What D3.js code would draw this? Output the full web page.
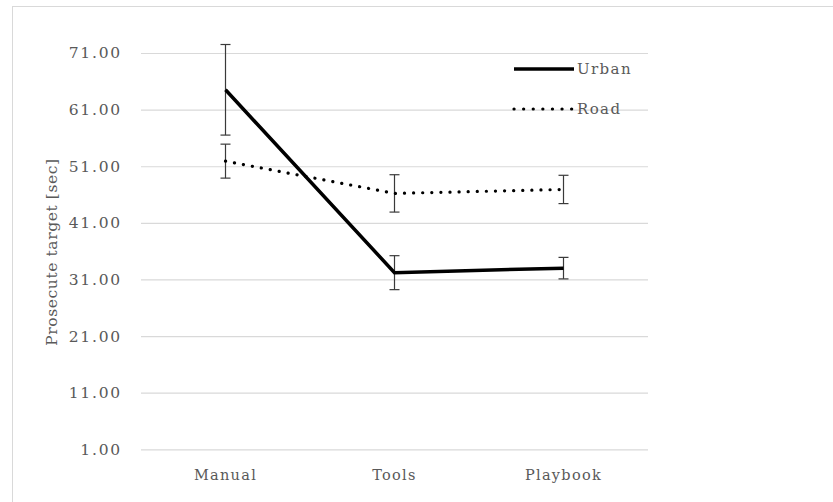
<!DOCTYPE html>
<html><head><meta charset="utf-8">
<script src="https://cdn.jsdelivr.net/npm/d3@7"></script>
<style>body{margin:0;background:#fff}text{font-family:"DejaVu Serif",serif;fill:#595959}</style>
</head><body><svg id="c" width="833" height="502"></svg>
<script>
const categories = ["Manual","Tools","Playbook"];
const urbanValues = [64.5, 32.2, 33.0];
const urbanErrors = [8.0, 3.0, 1.9];
const roadValues = [51.9, 46.2, 46.9];
const roadErrors = [3.0, 3.3, 2.5];
const yTicks = [1, 11, 21, 31, 41, 51, 61, 71];
const seriesNames = ["Urban","Road"];

const svg = d3.select("#c");
svg.append("rect").attr("x",12.5).attr("y",6.5).attr("width",840).attr("height",520)
  .attr("fill","none").attr("stroke","#d9d9d9");

const x = d3.scaleBand().domain(categories).range([141,648]);
const y = d3.scaleLinear().domain([1,71]).range([449.3,53]);

const gy = svg.append("g").attr("transform","translate(141,0)")
  .call(d3.axisLeft(y).tickValues(yTicks).tickFormat(d3.format(".2f")).tickSize(-507).tickPadding(19));
gy.select(".domain").remove();
gy.selectAll(".tick line").attr("stroke","#d9d9d9").attr("stroke-width",1.2);
gy.selectAll(".tick text").attr("font-size",15.5).attr("letter-spacing","1.8px").style("font-family","DejaVu Serif").attr("fill","#595959");

const gx = svg.append("g").attr("transform","translate(0,449.3)")
  .call(d3.axisBottom(x).tickSize(0).tickPadding(20));
gx.select(".domain").remove();
gx.selectAll(".tick text").attr("font-size",14.5).attr("letter-spacing","1.3px").style("font-family","DejaVu Serif").attr("fill","#595959");

svg.append("text").attr("transform","translate(57,252) rotate(-90)").attr("text-anchor","middle")
  .attr("font-size",15.5).attr("letter-spacing","0.6px").text("Prosecute target [sec]");

const cx = c => x(c) + x.bandwidth()/2;
const line = d3.line().x((d,i)=>cx(categories[i])).y(d=>y(d));

function drawErr(vals, errs){
  const g = svg.append("g").attr("stroke","#3a3a3a").attr("stroke-width",1.2);
  vals.forEach((v,i)=>{
    const px = cx(categories[i]);
    g.append("line").attr("x1",px).attr("x2",px).attr("y1",y(v+errs[i])).attr("y2",y(v-errs[i]));
    [v+errs[i], v-errs[i]].forEach(e=>g.append("line").attr("x1",px-5).attr("x2",px+5).attr("y1",y(e)).attr("y2",y(e)));
  });
}
drawErr(urbanValues, urbanErrors);
drawErr(roadValues, roadErrors);

svg.append("path").attr("d",line(urbanValues)).attr("fill","none").attr("stroke","#000").attr("stroke-width",3.5);
svg.append("path").attr("d",line(roadValues)).attr("fill","none").attr("stroke","#000").attr("stroke-width",3.2)
  .attr("stroke-linecap","round").attr("stroke-dasharray","0.1,9");

// legend
const lg = svg.append("g");
[[69,"Urban",null],[109,"Road","0.1,9.5"]].forEach(([ly,name,dash],i)=>{
  const l = lg.append("line").attr("x1",514).attr("x2",574).attr("y1",ly).attr("y2",ly).attr("stroke","#000");
  if(dash) l.attr("stroke-width",3.2).attr("stroke-linecap","round").attr("stroke-dasharray",dash);
  else l.attr("stroke-width",3.5);
  lg.append("text").attr("x",577).attr("y",ly+5).attr("font-size",15).attr("letter-spacing","1.4px").text(seriesNames[i]);
});
</script></body></html>
